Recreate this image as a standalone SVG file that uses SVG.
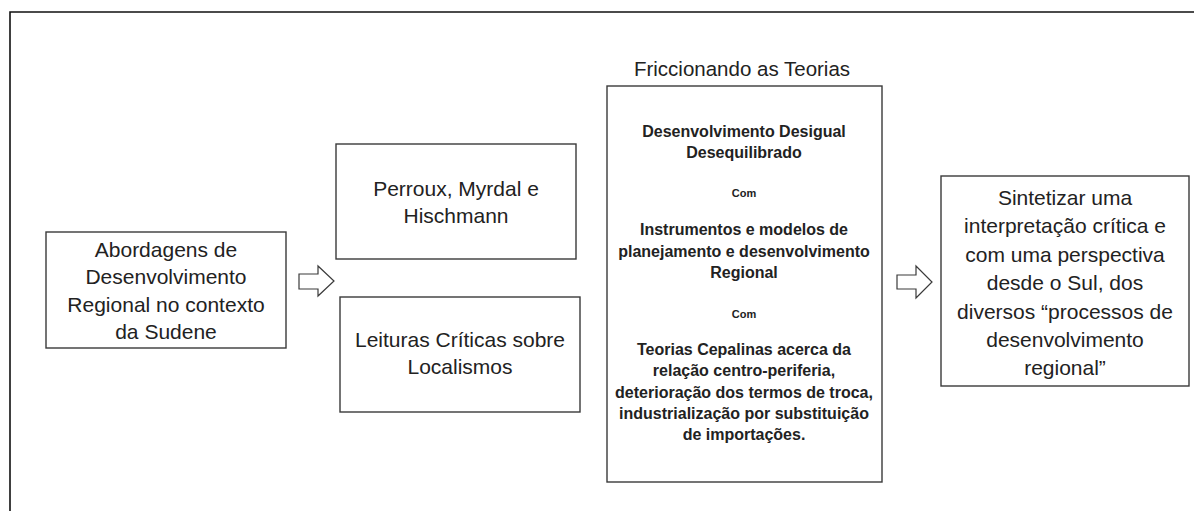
<svg xmlns="http://www.w3.org/2000/svg" width="1194" height="511" viewBox="0 0 1194 511">
<style>
.box{fill:#fff;stroke:#3a3a3a;stroke-width:1.4}
.frame{fill:none;stroke:#111;stroke-width:1.6}
.arrow{fill:#fff;stroke:#3a3a3a;stroke-width:1.2;stroke-linejoin:miter}
.t{font-family:"Liberation Sans",Arial,sans-serif;font-size:21px;fill:#222;text-anchor:middle}
.b{font-family:"Liberation Sans",Arial,sans-serif;font-size:16px;font-weight:bold;fill:#222;text-anchor:middle}
.s{font-family:"Liberation Sans",Arial,sans-serif;font-size:11px;font-weight:bold;fill:#222;text-anchor:middle}
.title{font-family:"Liberation Sans",Arial,sans-serif;font-size:20.5px;fill:#222;text-anchor:middle}
</style>
<rect width="1194" height="511" fill="#fff"/>
<path class="frame" d="M10,511 V12 H1194"/>
<g id="abordagens">
<rect class="box" x="46" y="232" width="240" height="116"/>
<text class="t" x="166" y="257">Abordagens de</text>
<text class="t" x="166" y="284">Desenvolvimento</text>
<text class="t" x="166" y="312">Regional no contexto</text>
<text class="t" x="166" y="339">da Sudene</text>
</g>
<g id="perroux">
<rect class="box" x="336" y="144" width="240" height="115"/>
<text class="t" x="456" y="196">Perroux, Myrdal e</text>
<text class="t" x="456" y="223">Hischmann</text>
</g>
<g id="leituras">
<rect class="box" x="340" y="297" width="240" height="115"/>
<text class="t" x="460" y="347">Leituras Críticas sobre</text>
<text class="t" x="460" y="374">Localismos</text>
</g>
<g id="friccionando">
<text class="title" x="742" y="76">Friccionando as Teorias</text>
<rect class="box" x="607" y="86" width="275" height="396"/>
<text class="b" x="744" y="137">Desenvolvimento Desigual</text>
<text class="b" x="744" y="158">Desequilibrado</text>
<text class="s" x="744" y="197">Com</text>
<text class="b" x="744" y="235">Instrumentos e modelos de</text>
<text class="b" x="744" y="257">planejamento e desenvolvimento</text>
<text class="b" x="744" y="278">Regional</text>
<text class="s" x="744" y="318">Com</text>
<text class="b" x="744" y="355">Teorias Cepalinas acerca da</text>
<text class="b" x="744" y="376">relação centro-periferia,</text>
<text class="b" x="744" y="398">deterioração dos termos de troca,</text>
<text class="b" x="744" y="419">industrialização por substituição</text>
<text class="b" x="744" y="440">de importações.</text>
</g>
<g id="sintetizar">
<rect class="box" x="941" y="176" width="248" height="210"/>
<text class="t" x="1065" y="205">Sintetizar uma</text>
<text class="t" x="1065" y="233">interpretação crítica e</text>
<text class="t" x="1065" y="262">com uma perspectiva</text>
<text class="t" x="1065" y="290">desde o Sul, dos</text>
<text class="t" x="1065" y="319">diversos “processos de</text>
<text class="t" x="1065" y="347">desenvolvimento</text>
<text class="t" x="1065" y="375">regional”</text>
</g>
<g id="connectors">
<polygon class="arrow" points="299,274 318,274 318,266 334,281 318,296 318,289 299,289"/>
<polygon class="arrow" points="897,275 916,275 916,266 932,282 916,298 916,289 897,289"/>
</g>
</svg>
